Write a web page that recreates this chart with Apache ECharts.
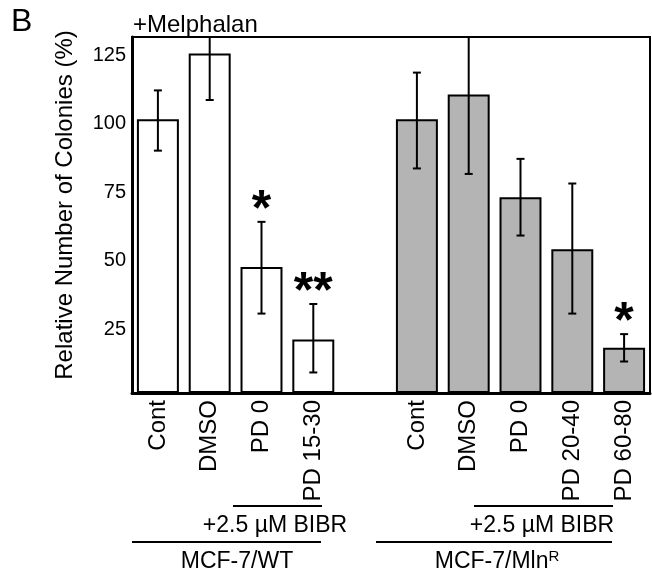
<!DOCTYPE html>
<html>
<head>
<meta charset="utf-8">
<script src="https://cdn.jsdelivr.net/npm/echarts@6/dist/echarts.min.js"></script>
<style>
  html, body { margin: 0; padding: 0; background: #fff; }
  #chart { width: 652px; height: 578px; }
</style>
</head>
<body>
<div id="chart"></div>
<script>
// ── Data ──────────────────────────────────────────────────────────────────────
const categories = ['Cont', 'DMSO', 'PD 0', 'PD 15-30', '', 'Cont', 'DMSO', 'PD 0', 'PD 20-40', 'PD 60-80'];
const means      = [100, 124, 46, 19.5, null, 100, 109, 71.5, 52.5, 16.5];
const errLow     = [88.5, 107, 29, 7.5, null, 82, 80, 57.5, 29, 11.5];
const errHigh    = [110.5, 141, 62.5, 32.5, null, 117, 139, 85.5, 76.5, 21.5];
const stars      = ['', '', '*', '**', '', '', '', '', '', '*'];
const yTicks     = [25, 50, 75, 100, 125];

const FONT = 'Liberation Sans, Arial, sans-serif';
const WT_COLOR   = '#ffffff';
const MLN_COLOR  = '#b4b4b4';

const chart = echarts.init(document.getElementById('chart'), null, { renderer: 'canvas' });

chart.setOption({
  backgroundColor: '#fff',
  animation: false,
  grid: {
    left: 132, right: 2, top: 37, bottom: 185,
    show: true, borderColor: '#000', borderWidth: 2, backgroundColor: 'transparent',
  },
  xAxis: {
    type: 'category',
    data: categories,
    axisLine: { lineStyle: { color: '#000', width: 3 } },
    axisTick: { show: false },
    axisLabel: {
      rotate: 90, interval: 0, margin: 7,
      color: '#000', fontSize: 24, fontFamily: FONT,
    },
  },
  yAxis: {
    type: 'value',
    min: 0, max: 130, interval: 25,
    name: 'Relative Number of Colonies (%)',
    nameLocation: 'middle',
    nameGap: 55,
    nameTextStyle: { color: '#000', fontSize: 24, fontFamily: FONT, padding: [0, 0, 0, 20] },
    axisLine: { show: true, lineStyle: { color: '#000', width: 3 } },
    axisTick: { show: false },
    splitLine: { show: false },
    axisLabel: {
      margin: 6,
      formatter: v => (yTicks.includes(v) ? '{v|' + v + '}' : ''),
      rich: {
        v: { color: '#000', fontSize: 20, fontFamily: FONT, padding: [9, 0, 0, 0] },
      },
    },
  },
  series: [
    {
      type: 'bar',
      barWidth: '81%',
      data: means.map((v, i) => ({
        value: v,
        itemStyle: { color: i < 5 ? WT_COLOR : MLN_COLOR, borderColor: '#000', borderWidth: 2 },
      })),
    },
    {
      type: 'custom',
      clip: true,
      data: means.map((v, i) => [i, errLow[i], errHigh[i]]),
      renderItem: (params, api) => {
        const i = api.value(0);
        if (means[i] == null) return null;
        const lo = api.coord([i, api.value(1)]);
        const hi = api.coord([i, api.value(2)]);
        const cap = 4;
        const style = { stroke: '#000', lineWidth: 2 };
        return {
          type: 'group',
          children: [
            { type: 'line', shape: { x1: lo[0], y1: lo[1], x2: hi[0], y2: hi[1] }, style },
            { type: 'line', shape: { x1: lo[0] - cap, y1: lo[1], x2: lo[0] + cap, y2: lo[1] }, style },
            { type: 'line', shape: { x1: hi[0] - cap, y1: hi[1], x2: hi[0] + cap, y2: hi[1] }, style },
          ],
        };
      },
      z: 5,
    },
    {
      type: 'custom',
      clip: false,
      data: means.map((v, i) => [i, errHigh[i]]),
      renderItem: (params, api) => {
        const i = api.value(0);
        if (!stars[i]) return null;
        const p = api.coord([i, api.value(1)]);
        return {
          type: 'text',
          style: {
            x: p[0], y: p[1] - 11,
            text: stars[i],
            fill: '#000',
            font: 'bold 50px ' + FONT,
            textAlign: 'center', textVerticalAlign: 'middle',
          },
        };
      },
      z: 6,
    },
  ],
  graphic: [
    { type: 'text', left: 11, top: 6, style: { text: 'B', fill: '#000', font: '32px ' + FONT } },
    { type: 'text', x: 133, y: 25, style: { text: '+Melphalan', fill: '#000', font: '24px ' + FONT, textVerticalAlign: 'middle' } },

    { type: 'line', shape: { x1: 233, y1: 506, x2: 322, y2: 506 }, style: { stroke: '#000', lineWidth: 2 } },
    { type: 'line', shape: { x1: 132, y1: 542, x2: 321, y2: 542 }, style: { stroke: '#000', lineWidth: 2 } },
    { type: 'line', shape: { x1: 474, y1: 506, x2: 613, y2: 506 }, style: { stroke: '#000', lineWidth: 2 } },
    { type: 'line', shape: { x1: 376, y1: 542, x2: 612, y2: 542 }, style: { stroke: '#000', lineWidth: 2 } },

    { type: 'text', x: 275, y: 526, style: { text: '+2.5 µM BIBR', fill: '#000', font: '23px ' + FONT, textAlign: 'center', textVerticalAlign: 'middle' } },
    { type: 'text', x: 542, y: 526, style: { text: '+2.5 µM BIBR', fill: '#000', font: '23px ' + FONT, textAlign: 'center', textVerticalAlign: 'middle' } },
    { type: 'text', x: 237, y: 562, style: { text: 'MCF-7/WT', fill: '#000', font: '23px ' + FONT, textAlign: 'center', textVerticalAlign: 'middle' } },
    {
      type: 'text', x: 497, y: 562,
      style: {
        text: '{a|MCF-7/Mln}{s|R}',
        textAlign: 'center', textVerticalAlign: 'middle',
        rich: {
          a: { fill: '#000', fontSize: 23, fontFamily: FONT, lineHeight: 26 },
          s: { fill: '#000', fontSize: 15, fontFamily: FONT, verticalAlign: 'top', lineHeight: 26 },
        },
      },
    },
  ],
});
</script>
</body>
</html>
